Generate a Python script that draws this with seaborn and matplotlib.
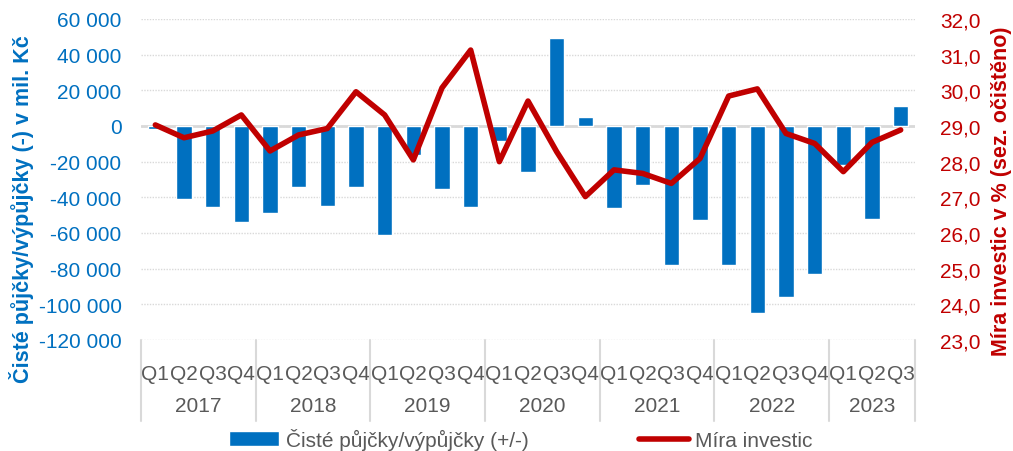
import numpy as np
import pandas as pd
import matplotlib.pyplot as plt
import matplotlib.transforms as mtransforms
from matplotlib.ticker import FuncFormatter, MultipleLocator
import seaborn as sns

# data
years = ["2017", "2018", "2019", "2020", "2021", "2022", "2023"]
quarters_per_year = [4, 4, 4, 4, 4, 4, 3]
quarter_names = ["Q1", "Q2", "Q3", "Q4"]
pujcky = [-1500, -41100, -45200, -53600, -49000, -34000, -44900, -34400,
          -61300, -16300, -35300, -45400, -8400, -25600, 49500, 4900,
          -45800, -33100, -77900, -52900, -77900, -105000, -95900, -82800,
          -22000, -52100, 11400]
mira = [29.03, 28.67, 28.86, 29.31, 28.30, 28.75, 28.93, 29.96,
        29.31, 28.05, 30.07, 31.13, 28.00, 29.70, 28.28, 27.02,
        27.77, 27.67, 27.39, 28.09, 29.84, 30.04, 28.79, 28.51,
        27.72, 28.54, 28.89]

BLUE = "#0070C0"
RED = "#C00000"
GREY = "#595959"

#%%
keys, qlabels = [], []
for y, n in zip(years, quarters_per_year):
    for q in quarter_names[:n]:
        keys.append(y + " " + q)
        qlabels.append(q)
data = pd.DataFrame({"key": keys, "q": qlabels, "pujcky": pujcky, "mira": mira})
data["idx"] = np.arange(len(data))

sns.set_theme(style="white")
plt.rcParams["font.family"] = ["Liberation Sans", "DejaVu Sans"]

fig = plt.figure(figsize=(10.13, 4.52), dpi=100)
ax = fig.add_axes([141 / 1013, 1 - 341 / 452, 774 / 1013, 321 / 452])

sns.barplot(data=data, x="key", y="pujcky", ax=ax, color=BLUE, width=0.54,
            saturation=1, label="Čisté půjčky/výpůjčky (+/-)", zorder=3)
if ax.get_legend() is not None:
    ax.get_legend().remove()
ax.set_ylim(-120000, 60000)
ax.yaxis.set_major_locator(MultipleLocator(20000))
ax.yaxis.set_major_formatter(FuncFormatter(lambda v, p: f"{v:,.0f}".replace(",", " ")))
ax.grid(False)
ax.yaxis.grid(True, color="#D9D9D9", linestyle=(0, (1, 1)), lw=1)
ax.axhline(0, color="#D9D9D9", lw=2, zorder=2)
ax.set_xlabel("")
ax.set_ylabel("")
ax.set_xticks(data["idx"])
ax.set_xticklabels(data["q"])
ax.tick_params(axis="x", length=0, pad=17, labelsize=15, labelcolor=GREY)
ax.tick_params(axis="y", length=0, pad=14, labelsize=15, labelcolor=BLUE)
for s in ax.spines.values():
    s.set_visible(False)

ax2 = ax.twinx()
sns.lineplot(data=data, x="idx", y="mira", ax=ax2, color=RED, lw=4,
             label="Míra investic", legend=False)
ax2.set_ylim(23, 32)
ax2.yaxis.set_major_locator(MultipleLocator(1))
ax2.yaxis.set_major_formatter(FuncFormatter(lambda v, p: f"{v:.1f}".replace(".", ",")))
ax2.tick_params(axis="y", length=0, pad=18, labelsize=15, labelcolor=RED)
ax2.set_ylabel("")
ax2.grid(False)
for s in ax2.spines.values():
    s.set_visible(False)
ax.set_xlim(-0.5, len(data) - 0.5)

# year labels and separators
trans = mtransforms.blended_transform_factory(ax.transData, ax.transAxes)
start = 0
bounds = [-0.5]
for y, n in zip(years, quarters_per_year):
    ax.text(start + (n - 1) / 2, -66 / 321, y, transform=trans, ha="center",
            va="center", fontsize=15, color=GREY)
    start += n
    bounds.append(start - 0.5)
for b in bounds:
    ax.plot([b, b], [0, -81 / 321], transform=trans, color="#D9D9D9", lw=1.5,
            clip_on=False)

fig.text(22 / 1013, 1 - 209 / 452, "Čisté půjčky/výpůjčky (-) v mil. Kč", rotation=90,
         ha="center", va="center", fontsize=15.5, fontweight="bold", color=BLUE)
fig.text(1001 / 1013, 1 - 191 / 452, "Míra investic v % (sez. očištěno)", rotation=90,
         ha="center", va="center", fontsize=15.5, fontweight="bold", color=RED)

h1, l1 = ax.get_legend_handles_labels()
h2, l2 = ax2.get_legend_handles_labels()
fig.legend(h1 + h2, l1 + l2, loc="center", bbox_to_anchor=(521 / 1013, 1 - 440 / 452),
           ncol=2, frameon=False, fontsize=15, handlelength=2.4, columnspacing=5.3,
           handletextpad=0.3, labelcolor=GREY)

fig.savefig("out.png", dpi=100)
